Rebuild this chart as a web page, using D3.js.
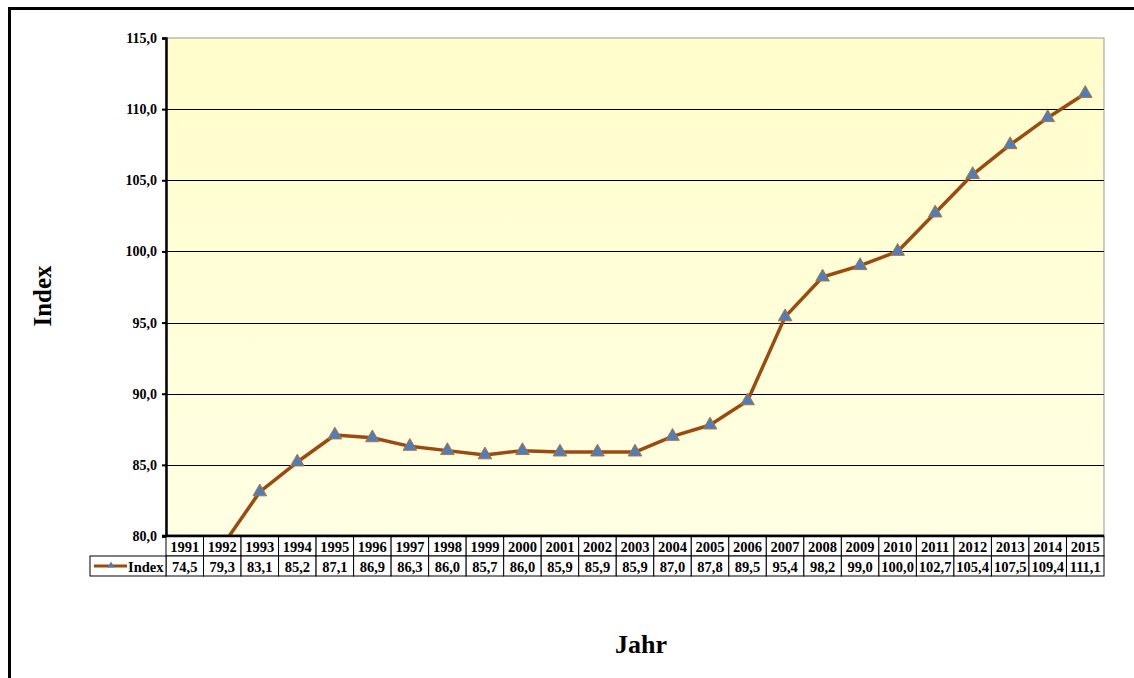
<!DOCTYPE html>
<html>
<head>
<meta charset="utf-8">
<script src="https://cdn.jsdelivr.net/npm/d3@7"></script>
<style>
  html, body { margin: 0; padding: 0; background: #fff; }
  svg { display: block; }
  text { font-family: "Liberation Serif", "Times New Roman", serif; font-weight: bold; fill: #000; }
</style>
</head>
<body>
<svg id="chart" width="1134" height="678"></svg>
<script>
// Jahresindex (2010 = 100)
const years = ["1991","1992","1993","1994","1995","1996","1997","1998","1999","2000",
  "2001","2002","2003","2004","2005","2006","2007","2008","2009","2010",
  "2011","2012","2013","2014","2015"];
const indexValues = [74.5, 79.3, 83.1, 85.2, 87.1, 86.9, 86.3, 86.0, 85.7, 86.0,
  85.9, 85.9, 85.9, 87.0, 87.8, 89.5, 95.4, 98.2, 99.0, 100.0,
  102.7, 105.4, 107.5, 109.4, 111.1];
const yTicks = [80, 85, 90, 95, 100, 105, 110, 115];
const seriesName = "Index";

const fmt = v => d3.format(".1f")(v).replace(".", ",");

const svg = d3.select("#chart");
const W = 1134, H = 678;
const plot = { left: 166, right: 1104, top: 38, bottom: 536 };
const rowH = 20;

// outer frame
svg.append("rect")
  .attr("x", 9.5).attr("y", 8.5)
  .attr("width", W + 20).attr("height", H + 20)
  .attr("fill", "none").attr("stroke", "#000").attr("stroke-width", 3);

const x = d3.scaleBand().domain(years).range([plot.left, plot.right]).padding(0);
const y = d3.scaleLinear().domain([80, 115]).range([plot.bottom, plot.top]);

// plot background
const defs = svg.append("defs");
const grad = defs.append("linearGradient").attr("id", "bg")
  .attr("x1", 0).attr("y1", 0).attr("x2", 0).attr("y2", 1);
grad.append("stop").attr("offset", "0%").attr("stop-color", "#FFFDCA");
grad.append("stop").attr("offset", "100%").attr("stop-color", "#FFFFE4");
defs.append("clipPath").attr("id", "clip").append("rect")
  .attr("x", plot.left).attr("y", plot.top - 10)
  .attr("width", plot.right - plot.left + 10).attr("height", plot.bottom - plot.top + 10);

svg.append("rect")
  .attr("x", plot.left).attr("y", plot.top)
  .attr("width", plot.right - plot.left).attr("height", plot.bottom - plot.top)
  .attr("fill", "url(#bg)").attr("stroke", "#999").attr("stroke-width", 1);

// gridlines
svg.append("g").selectAll("line").data(yTicks.filter(t => t > 80 && t < 115)).join("line")
  .attr("x1", plot.left).attr("x2", plot.right)
  .attr("y1", d => Math.round(y(d)) + 0.5).attr("y2", d => Math.round(y(d)) + 0.5)
  .attr("stroke", "#000").attr("stroke-width", 1);

// y axis
const yAxis = d3.axisLeft(y).tickValues(yTicks).tickFormat(fmt).tickSize(4).tickPadding(5);
const ga = svg.append("g").attr("transform", `translate(${plot.left},0)`).call(yAxis);
ga.select(".domain").attr("stroke", "#000").attr("stroke-width", 2.5);
ga.selectAll(".tick line").attr("stroke", "#000").attr("stroke-width", 2);
ga.selectAll(".tick text").style("font-family", "'Liberation Serif', serif")
  .style("font-weight", "bold").style("font-size", "14px").attr("fill", "#000");

// bottom axis line
svg.append("line").attr("x1", plot.left - 4).attr("x2", plot.right)
  .attr("y1", plot.bottom).attr("y2", plot.bottom)
  .attr("stroke", "#000").attr("stroke-width", 2.5);

// series line
const lineColor = "#9A4B0F";
const cx = d => x(d) + x.bandwidth() / 2;
const line = d3.line().x((d, i) => cx(years[i])).y(d => y(d));
const gSeries = svg.append("g").attr("clip-path", "url(#clip)");
gSeries.append("path").datum(indexValues)
  .attr("d", line).attr("fill", "none")
  .attr("stroke", lineColor).attr("stroke-width", 3.5).attr("stroke-linejoin", "round");

const tri = d3.symbol().type(d3.symbolTriangle).size(80);
gSeries.selectAll("path.m").data(indexValues).join("path").attr("class", "m")
  .attr("d", tri)
  .attr("transform", (d, i) => `translate(${cx(years[i])},${y(d)})`)
  .attr("fill", "#4F7DBB").attr("stroke", "#B0733A").attr("stroke-width", 1);

// data table
const tbl = svg.append("g");
const legendLeft = 90;
const r1 = plot.bottom, r2 = plot.bottom + rowH;
years.forEach((yr, i) => {
  const x0 = x(yr);
  tbl.append("rect").attr("x", x0).attr("y", r1).attr("width", x.bandwidth()).attr("height", rowH)
    .attr("fill", "#fff").attr("stroke", "#000").attr("stroke-width", 1);
  tbl.append("rect").attr("x", x0).attr("y", r2).attr("width", x.bandwidth()).attr("height", rowH)
    .attr("fill", "#fff").attr("stroke", "#000").attr("stroke-width", 1);
  tbl.append("text").attr("x", cx(yr)).attr("y", r1 + 15.5).attr("text-anchor", "middle")
    .style("font-size", "14.5px").text(yr);
  tbl.append("text").attr("x", cx(yr)).attr("y", r2 + 15.5).attr("text-anchor", "middle")
    .style("font-size", "14.5px").text(fmt(indexValues[i]));
});
tbl.append("rect").attr("x", legendLeft).attr("y", r2).attr("width", plot.left - legendLeft).attr("height", rowH)
  .attr("fill", "#fff").attr("stroke", "#000").attr("stroke-width", 1);
tbl.append("line").attr("x1", 94).attr("x2", 127).attr("y1", r2 + 10).attr("y2", r2 + 10)
  .attr("stroke", lineColor).attr("stroke-width", 3);
tbl.append("path").attr("d", d3.symbol().type(d3.symbolTriangle).size(22))
  .attr("transform", `translate(111,${r2 + 9.5})`).attr("fill", "#4F7DBB");
tbl.append("text").attr("x", 128).attr("y", r2 + 15.5).style("font-size", "14.5px").text(seriesName);
tbl.append("line").attr("x1", plot.left).attr("x2", plot.right).attr("y1", r1).attr("y2", r1)
  .attr("stroke", "#000").attr("stroke-width", 2.5);

// axis titles
svg.append("text").attr("transform", "translate(51,296) rotate(-90)").attr("text-anchor", "middle")
  .style("font-size", "25px").text("Index");
svg.append("text").attr("x", 641).attr("y", 653).attr("text-anchor", "middle")
  .style("font-size", "26px").text("Jahr");
</script>
</body>
</html>
